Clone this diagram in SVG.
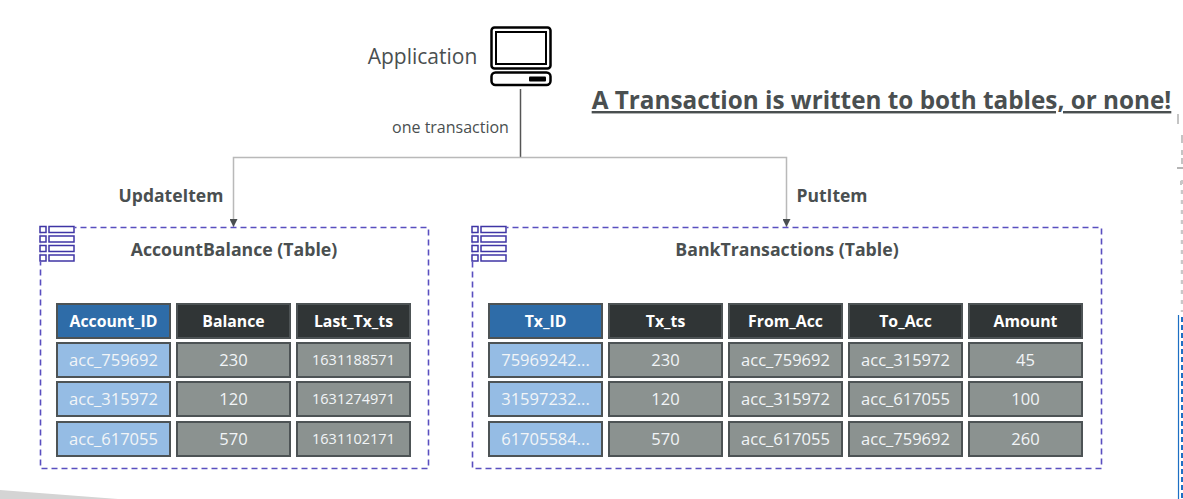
<svg xmlns="http://www.w3.org/2000/svg" width="1183" height="499" viewBox="0 0 1183 499">
<style>
text{font-family:"Open Sans","Noto Sans","Liberation Sans",sans-serif;text-anchor:middle}
.h{font-size:15.800px;font-weight:700;fill:#fff}
.c{font-size:16.500px;fill:#f2f5f7}
.s{font-size:14.500px;fill:#f2f5f7}
.lb{font-size:17.500px;font-weight:700;fill:#4a4f50}
.tt{font-size:17.700px;font-weight:700;fill:#4a4f50}
.pk{fill:#2e6ca8;stroke:#4d5355;stroke-width:2}
.hd{fill:#303536;stroke:#4d5355;stroke-width:2}
.ky{fill:#95bce4;stroke:#4d5355;stroke-width:2}
.vl{fill:#8b9290;stroke:#4d5355;stroke-width:2}
.box{fill:none;stroke:#5a4fc0;stroke-width:1.6;stroke-dasharray:6 4}
.ln{fill:none;stroke:#b9b9b9;stroke-width:1.5}
.ic{fill:#fff;stroke:#3f35a5;stroke-width:1.5}
</style>
<defs><marker id="a" markerWidth="9" markerHeight="8" refX="8" refY="4" orient="auto" markerUnits="userSpaceOnUse"><path d="M0 0L8 4L0 8z" fill="#4a4f50"/></marker></defs>
<path d="M0 490L118 499H0z" fill="#d4d4d4"/>
<g id="margin-marks">
<path d="M1178 114v10M1182 135v8M1182 150v5M1182 158v6M1181 181v4" stroke="#c4c4c4" stroke-width="2" fill="none"/>
<path d="M1177 168h6" stroke="#b5b5b5" stroke-width="2"/>
<path d="M1182 180v132" stroke="#c8c8c8" stroke-width="2.500" stroke-dasharray="4 6" fill="none"/>
<path d="M1178.500 315v184" stroke="#1d6fc4" stroke-width="1.200" fill="none"/>
<path d="M1182 317v182" stroke="#1d6fc4" stroke-width="2" stroke-dasharray="5 3" fill="none"/>
</g>
<g id="connectors">
<path class="ln" style="stroke:#555" d="M520.500 89V157.500"/>
<path class="ln" d="M520.500 157.500H233.500V227" marker-end="url(#a)"/>
<path class="ln" d="M520.500 157.500H786.500V227" marker-end="url(#a)"/>
</g>
<g id="application">
<text x="422.500" y="64" style="font-size:21px;fill:#4a4f50">Application</text>
<rect x="491.500" y="27.500" width="59" height="41" rx="3" fill="#fff" stroke="#000" stroke-width="2.500"/>
<rect x="496" y="32" width="50" height="32" fill="#fff" stroke="#000" stroke-width="2"/>
<rect x="491.500" y="72.500" width="59" height="12.500" rx="4" fill="#fff" stroke="#000" stroke-width="2.500"/>
<rect x="529" y="76.500" width="17" height="5" rx="1" fill="#000"/>
</g>
<text id="one-transaction" x="450.500" y="133" style="font-size:16px;fill:#4a4f50">one transaction</text>
<text id="headline" x="881.500" y="109" style="font-size:24.300px;font-weight:700;fill:#4a4f50;text-decoration:underline">A Transaction is written to both tables, or none!</text>
<text id="update-label" x="171" y="202" class="lb">UpdateItem</text>
<text id="put-label" x="832" y="202" class="lb">PutItem</text>
<g id="account-balance">
<rect class="box" x="40.500" y="227.500" width="388" height="241"/>
<g id="icon-a"><rect x="39" y="226" width="36" height="36" fill="#fff" opacity="0.8"/>
<rect class="ic" x="40" y="226.500" width="6" height="6"/><rect class="ic" x="49" y="226.500" width="25" height="6"/>
<rect class="ic" x="40" y="236" width="6" height="6"/><rect class="ic" x="49" y="236" width="25" height="6"/>
<rect class="ic" x="40" y="245.500" width="6" height="6"/><rect class="ic" x="49" y="245.500" width="25" height="6"/>
<rect class="ic" x="40" y="255" width="6" height="6"/><rect class="ic" x="49" y="255" width="25" height="6"/></g>
<text x="234" y="256" class="tt">AccountBalance (Table)</text>
<rect class="pk" x="57" y="304" width="113" height="34"/><text class="h" x="113.500" y="327">Account_ID</text>
<rect class="hd" x="177" y="304" width="113" height="34"/><text class="h" x="233.500" y="327">Balance</text>
<rect class="hd" x="297" y="304" width="113" height="34"/><text class="h" x="353.500" y="327">Last_Tx_ts</text>
<rect class="ky" x="57" y="343" width="113" height="34"/><text class="c" x="113.500" y="366">acc_759692</text>
<rect class="vl" x="177" y="343" width="113" height="34"/><text class="c" x="233.500" y="366">230</text>
<rect class="vl" x="297" y="343" width="113" height="34"/><text class="s" x="353.500" y="365">1631188571</text>
<rect class="ky" x="57" y="382" width="113" height="34"/><text class="c" x="113.500" y="405">acc_315972</text>
<rect class="vl" x="177" y="382" width="113" height="34"/><text class="c" x="233.500" y="405">120</text>
<rect class="vl" x="297" y="382" width="113" height="34"/><text class="s" x="353.500" y="404">1631274971</text>
<rect class="ky" x="57" y="422" width="113" height="34"/><text class="c" x="113.500" y="445">acc_617055</text>
<rect class="vl" x="177" y="422" width="113" height="34"/><text class="c" x="233.500" y="445">570</text>
<rect class="vl" x="297" y="422" width="113" height="34"/><text class="s" x="353.500" y="444">1631102171</text>
</g>
<g id="bank-transactions">
<rect class="box" x="472.500" y="227.500" width="629" height="241"/>
<g id="icon-b"><rect x="471" y="226" width="36" height="36" fill="#fff" opacity="0.8"/>
<rect class="ic" x="472" y="226.500" width="6" height="6"/><rect class="ic" x="481" y="226.500" width="25" height="6"/>
<rect class="ic" x="472" y="236" width="6" height="6"/><rect class="ic" x="481" y="236" width="25" height="6"/>
<rect class="ic" x="472" y="245.500" width="6" height="6"/><rect class="ic" x="481" y="245.500" width="25" height="6"/>
<rect class="ic" x="472" y="255" width="6" height="6"/><rect class="ic" x="481" y="255" width="25" height="6"/></g>
<text x="787" y="256" class="tt">BankTransactions (Table)</text>
<rect class="pk" x="489" y="304" width="113" height="34"/><text class="h" x="545.500" y="327">Tx_ID</text>
<rect class="hd" x="609" y="304" width="113" height="34"/><text class="h" x="665.500" y="327">Tx_ts</text>
<rect class="hd" x="729" y="304" width="113" height="34"/><text class="h" x="785.500" y="327">From_Acc</text>
<rect class="hd" x="849" y="304" width="113" height="34"/><text class="h" x="905.500" y="327">To_Acc</text>
<rect class="hd" x="969" y="304" width="113" height="34"/><text class="h" x="1025.500" y="327">Amount</text>
<rect class="ky" x="489" y="343" width="113" height="34"/><text class="c" x="545.500" y="366">75969242...</text>
<rect class="vl" x="609" y="343" width="113" height="34"/><text class="c" x="665.500" y="366">230</text>
<rect class="vl" x="729" y="343" width="113" height="34"/><text class="c" x="785.500" y="366">acc_759692</text>
<rect class="vl" x="849" y="343" width="113" height="34"/><text class="c" x="905.500" y="366">acc_315972</text>
<rect class="vl" x="969" y="343" width="113" height="34"/><text class="c" x="1025.500" y="366">45</text>
<rect class="ky" x="489" y="382" width="113" height="34"/><text class="c" x="545.500" y="405">31597232...</text>
<rect class="vl" x="609" y="382" width="113" height="34"/><text class="c" x="665.500" y="405">120</text>
<rect class="vl" x="729" y="382" width="113" height="34"/><text class="c" x="785.500" y="405">acc_315972</text>
<rect class="vl" x="849" y="382" width="113" height="34"/><text class="c" x="905.500" y="405">acc_617055</text>
<rect class="vl" x="969" y="382" width="113" height="34"/><text class="c" x="1025.500" y="405">100</text>
<rect class="ky" x="489" y="422" width="113" height="34"/><text class="c" x="545.500" y="445">61705584...</text>
<rect class="vl" x="609" y="422" width="113" height="34"/><text class="c" x="665.500" y="445">570</text>
<rect class="vl" x="729" y="422" width="113" height="34"/><text class="c" x="785.500" y="445">acc_617055</text>
<rect class="vl" x="849" y="422" width="113" height="34"/><text class="c" x="905.500" y="445">acc_759692</text>
<rect class="vl" x="969" y="422" width="113" height="34"/><text class="c" x="1025.500" y="445">260</text>
</g>
</svg>
